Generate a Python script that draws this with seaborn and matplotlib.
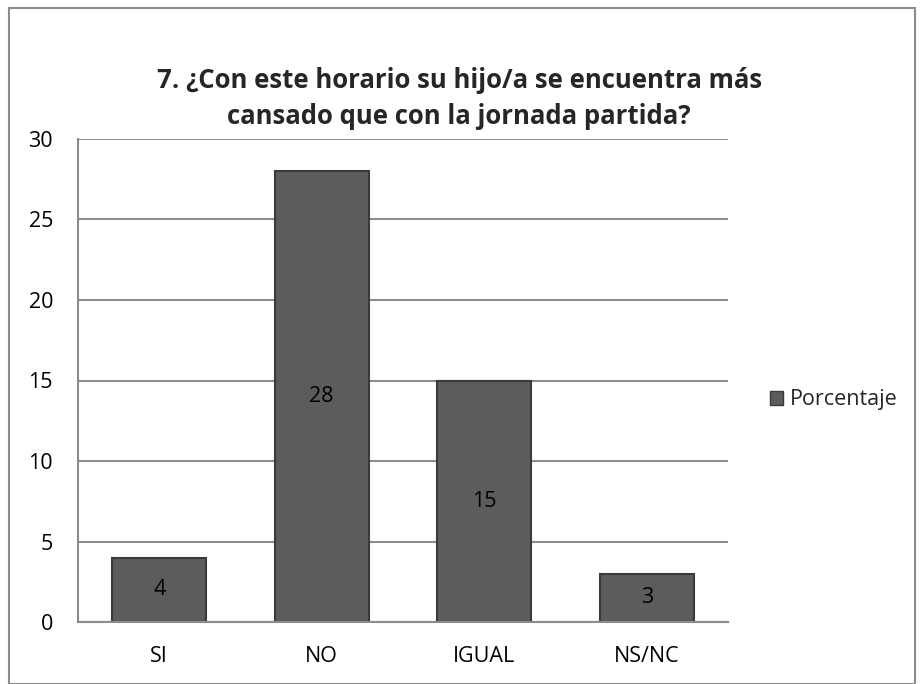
import matplotlib
matplotlib.use("Agg")
import matplotlib.pyplot as plt
import seaborn as sns
import pandas as pd
from matplotlib.patches import Rectangle, Patch

categories = ["SI", "NO", "IGUAL", "NS/NC"]
values = [4, 28, 15, 3]
series_name = "Porcentaje"
yticks = [0, 5, 10, 15, 20, 25, 30]
title_lines = ["7. ¿Con este horario su hijo/a se encuentra más",
               "cansado que con la jornada partida?"]

sns.set_theme(style="white")
plt.rcParams['font.family'] = ['Open Sans', 'DejaVu Sans']

df = pd.DataFrame({"cat": categories, "val": values})

fig = plt.figure(figsize=(9.24, 6.84), dpi=100)
ax = fig.add_axes([78/924, 62/684, 650/924, 483/684])

bar_color = "#5c5c5c"
sns.barplot(data=df, x="cat", y="val", ax=ax, color=bar_color, width=0.58,
            edgecolor="#3a3a3a", linewidth=1.5, saturation=1)

ax.set_ylim(0, 30)
ax.set_yticks(yticks)
ax.set_xlim(-0.5, len(categories) - 0.5)
ax.yaxis.grid(True, color="#8c8c8c", linewidth=1.5)
ax.set_axisbelow(True)
for s in ["top", "right"]:
    ax.spines[s].set_visible(False)
for s in ["left", "bottom"]:
    ax.spines[s].set_color("#8c8c8c")
    ax.spines[s].set_linewidth(1.5)
ax.set_xlabel("")
ax.set_ylabel("")
fs = 15.5
ax.tick_params(axis="y", labelsize=fs, length=0, pad=18, colors="black")
ax.tick_params(axis="x", labelsize=fs, length=0, pad=17, colors="black")

for c in ax.containers:
    ax.bar_label(c, label_type="center", fontsize=fs, color="black")

fig.text(0.497, 1 - 80/684, title_lines[0], ha="center", va="center",
         fontsize=18.5, fontweight="bold")
fig.text(0.497, 1 - 117/684, title_lines[1], ha="center", va="center",
         fontsize=18.5, fontweight="bold")

handles = [Patch(facecolor=bar_color, edgecolor="#3a3a3a", label=series_name)]
fig.legend(handles=handles, loc="center left", bbox_to_anchor=(770/924, 1 - 400/684),
           frameon=False, fontsize=fs, handlelength=0.6, handleheight=0.6,
           handletextpad=0.3, borderaxespad=0, borderpad=0)

fig.patches.append(Rectangle((9/924, 0), 906/924, 1 - 8/684, transform=fig.transFigure,
                             fill=False, edgecolor="#8c8c8c", linewidth=1.5))

fig.savefig("out.png", dpi=100)
